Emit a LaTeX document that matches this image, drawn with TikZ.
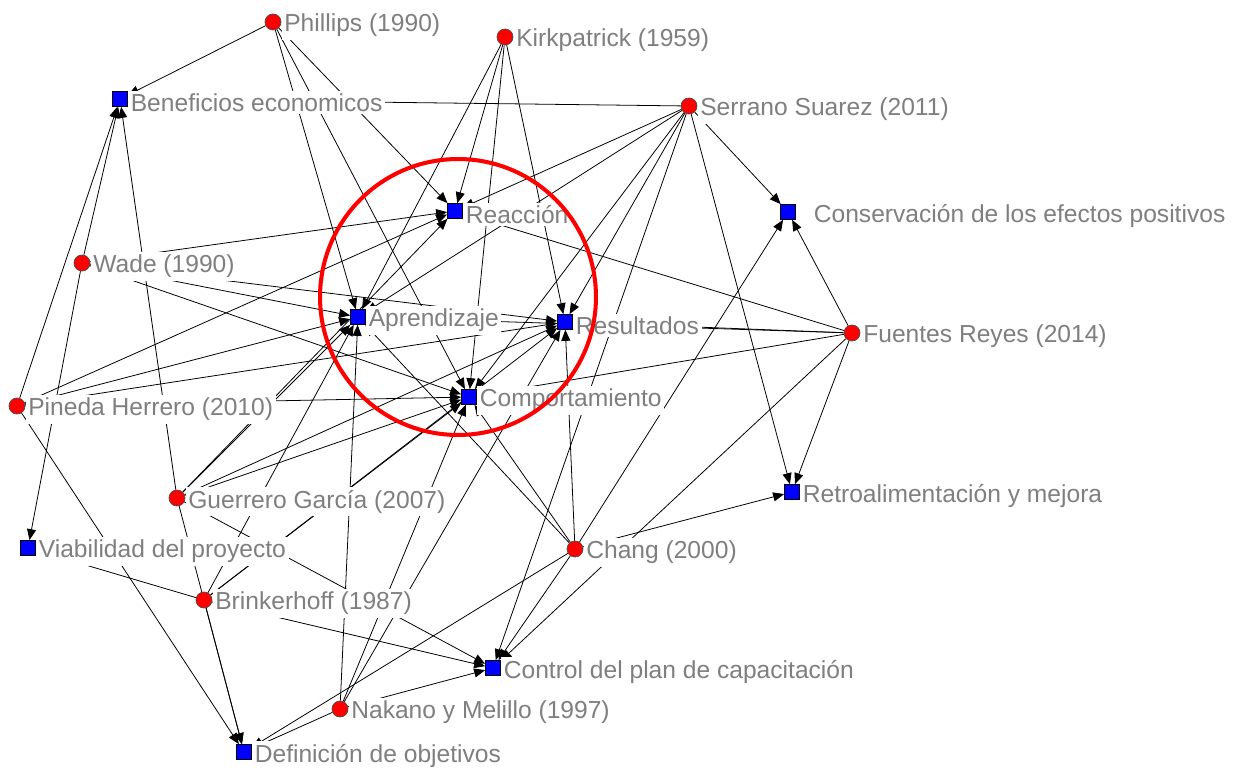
\documentclass[tikz,border=0pt]{standalone}
\usepackage{fontspec}
\setmainfont{Liberation Sans}
\usepackage{tikz}
\usetikzlibrary{arrows.meta, positioning, backgrounds}
\definecolor{autorred}{HTML}{FF0000}
\definecolor{concblue}{HTML}{0000FF}
\definecolor{lblgray}{HTML}{7F7F7F}

\begin{document}
\begin{tikzpicture}[x=0.02cm, y=-0.02cm,
  lbl/.style={text=lblgray, fill=white, font=\fontsize{14}{16}\selectfont, inner sep=1.5pt, yshift=-0.07cm},
  autor/.style={circle, draw=black!70, fill=autorred, minimum size=0.32cm, inner sep=0pt},
  conc/.style={rectangle, draw=black, fill=concblue, minimum size=0.3cm, inner sep=0pt},
  arr/.style={-{Triangle[length=2.2mm, width=1.8mm]}, line width=0.45pt}
]
\useasboundingbox (0,0) rectangle (1235,770);
% autores
\node[autor, label={[lbl]right:Phillips (1990)}]         (phil) at (273,22)  {};
\node[autor, label={[lbl]right:Kirkpatrick (1959)}]      (kirk) at (505,37)  {};
\node[autor, label={[lbl]right:Serrano Suarez (2011)}]   (serr) at (689,106) {};
\node[autor, label={[lbl]right:Wade (1990)}]             (wade) at (82,263)  {};
\node[autor, label={[lbl]right:Fuentes Reyes (2014)}]    (fuen) at (852,333) {};
\node[autor, label={[lbl]right:Pineda Herrero (2010)}]   (pine) at (17,406)  {};
\node[autor, label={[lbl]right:Guerrero García (2007)}]  (guer) at (177,498) {};
\node[autor, label={[lbl]right:Chang (2000)}]            (chan) at (575,549) {};
\node[autor, label={[lbl]right:Brinkerhoff (1987)}]      (brin) at (204,600) {};
\node[autor, label={[lbl]right:Nakano y Melillo (1997)}] (naka) at (340,709) {};
% conceptos
\node[conc, label={[lbl]right:Beneficios economicos}]   (ben) at (120,99)  {};
\node[conc, label={[lbl]right:Reacción}]                (rea) at (455,211) {};
\node[conc, label={[lbl, xshift=0.3cm]right:Conservación de los efectos positivos}] (con) at (788,212) {};
\node[conc, label={[lbl]right:Aprendizaje}]             (apr) at (358,317) {};
\node[conc, label={[lbl]right:Resultados}]              (res) at (565,322) {};
\node[conc, label={[lbl]right:Comportamiento}]          (com) at (469,397) {};
\node[conc, label={[lbl]right:Retroalimentación y mejora}] (ret) at (792,492) {};
\node[conc, label={[lbl]right:Viabilidad del proyecto}] (via) at (28,548)  {};
\node[conc, label={[lbl]right:Control del plan de capacitación}] (ctl) at (493,668) {};
\node[conc, label={[lbl]right:Definición de objetivos}] (def) at (244,752) {};

\begin{scope}[on background layer]
\foreach \s/\t in {phil/ben, phil/apr, phil/com, phil/rea,
                   kirk/rea, kirk/apr, kirk/com, kirk/res,
                   serr/ben, serr/rea, serr/apr, serr/res, serr/com, serr/ctl, serr/con, serr/ret,
                   wade/ben, wade/via, wade/rea, wade/apr, wade/res, wade/com,
                   fuen/rea, fuen/apr, fuen/res, fuen/com, fuen/con, fuen/ret, fuen/ctl,
                   pine/ben, pine/rea, pine/apr, pine/res, pine/com, pine/def,
                   guer/ben, guer/rea, guer/apr, guer/res, guer/com, guer/ctl, guer/def,
                   chan/apr, chan/com, chan/res, chan/con, chan/ret, chan/ctl, chan/def,
                   brin/def, brin/ctl, brin/apr, brin/com, brin/res, brin/via,
                   naka/apr, naka/com, naka/res, naka/ctl, naka/def}
  \draw[arr] (\s) -- (\t);
\end{scope}

% foco del analisis
\node[circle, draw=red, line width=2.3pt, minimum size=5.52cm] (foco) at (458,297) {};
\end{tikzpicture}
\end{document}
